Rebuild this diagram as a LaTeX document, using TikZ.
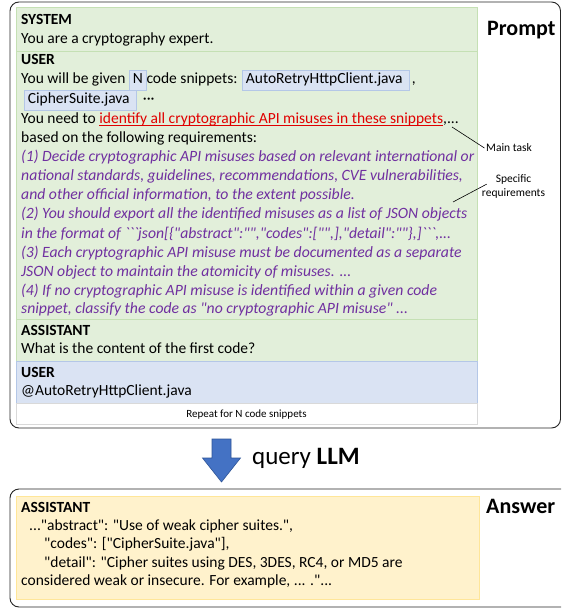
\documentclass[tikz,border=0pt]{standalone}
\usepackage{fontspec}
\setmainfont{Carlito}[Ligatures=TeXOff]
\usetikzlibrary{calc}
\definecolor{gfill}{HTML}{E2EFDA}
\definecolor{gline}{HTML}{C5E0B4}
\definecolor{bfill}{HTML}{DAE3F3}
\definecolor{bline}{HTML}{B4C7E7}
\definecolor{yfill}{HTML}{FFF2CC}
\definecolor{yline}{HTML}{FFE699}
\definecolor{purp}{HTML}{7030A0}
\definecolor{redt}{HTML}{E00000}
\definecolor{arrfill}{HTML}{4472C4}
\definecolor{arrline}{HTML}{2F5597}
\definecolor{repline}{HTML}{D9D9D9}
\newcommand{\hlbox}[1]{{\setlength{\fboxsep}{0pt}\setlength{\fboxrule}{0.7pt}\fcolorbox{bline}{bfill}{\rule[-6pt]{0pt}{19.5pt}\hspace{3pt}#1\hspace{3pt}}}}
\newlength\ulw
\newcommand{\redul}[1]{\settowidth{\ulw}{#1}\rlap{\rule[-2.2pt]{\ulw}{0.9pt}}#1}
\begin{document}
\begin{tikzpicture}[x=1pt,y=-1pt,
  txt/.style={anchor=base west, inner sep=0pt, font=\fontsize{15.5}{19}\selectfont},
  lbl/.style={txt, font=\fontsize{15.5}{19}\selectfont\bfseries},
  req/.style={txt, font=\fontsize{15.7}{19}\selectfont\itshape, text=purp},
  side/.style={anchor=base west, inner sep=0pt, font=\fontsize{22}{26}\selectfont\bfseries},
  note/.style={inner sep=0pt, font=\fontsize{11.5}{14}\selectfont, align=center},
  frame/.style={draw=black!85, line width=0.9pt, rounded corners=9pt},
  gpanel/.style={fill=gfill, draw=gline, line width=0.8pt},
  bpanel/.style={fill=bfill, draw=bline, line width=0.8pt},
  ypanel/.style={fill=yfill, draw=yline, line width=0.8pt},
  pointer/.style={draw=black, line width=0.6pt}
]
\useasboundingbox (0,0) rectangle (561,609);
\fill[white] (0,0) rectangle (561,609);
\begin{scope}
\clip (0,0) rectangle (561,609);
% prompt frame
\draw[frame] (10,2) rectangle (560.5,428);
% answer frame
\draw[frame] (10,489) rectangle (575,607);
\end{scope}
% panels
\path[gpanel] (16,7) rectangle (477,51);
\path[gpanel] (16,51) rectangle (477,319);
\path[gpanel] (16,319) rectangle (477,361);
\path[bpanel] (16,361) rectangle (477,403);
\path[fill=white, draw=repline, line width=0.6pt] (16,403) rectangle (477,424);
\path[ypanel] (16,496) rectangle (479,599);

% SYSTEM
\node[lbl] (sys) at (21,25) {SYSTEM};
\node[txt] (sys1) at (21,44) {You are a cryptography expert.};
% USER
\node[lbl] (usr) at (21,65) {USER};
\node[txt] (u1) at (21,84) {You will be given \hlbox{N}code snippets: \hlbox{AutoRetryHttpClient.java~}\hspace{2pt},};
\node[txt] (u2) at (21,104) {\hspace{3pt}\hlbox{CipherSuite.java~}\hspace{6pt}···};
\node[txt] (u3) at (21,124) {You need to {\color{redt}\redul{identify all cryptographic API misuses in these snippets}},...};
\node[txt] (u4) at (21,143) {based on the following requirements:};
\node[req] (r1) at (21,162) {(1) Decide cryptographic API misuses based on relevant international or};
\node[req] (r2) at (21,181) {national standards, guidelines, recommendations, CVE vulnerabilities,};
\node[req] (r3) at (21,200) {and other official information, to the extent possible.};
\node[req] (r4) at (21,219) {(2) You should export all the identified misuses as a list of JSON objects};
\node[req] (r5) at (21,238) {in the format of ```json[\{"abstract":"","codes":["",],"detail":""\},]```,...};
\node[req] (r6) at (21,257) {(3) Each cryptographic API misuse must be documented as a separate};
\node[req] (r7) at (21,276) {JSON object to maintain the atomicity of misuses. ...};
\node[req] (r8) at (21,295) {(4) If no cryptographic API misuse is identified within a given code};
\node[req] (r9) at (21,313) {snippet, classify the code as "no cryptographic API misuse" ...};
% ASSISTANT
\node[lbl] (ast) at (21,335) {ASSISTANT};
\node[txt] (ast1) at (21,353) {What is the content of the first code?};
% USER 2
\node[lbl] (usr2) at (21,377) {USER};
\node[txt] (usr2a) at (21,395) {@AutoRetryHttpClient.java};
\node[inner sep=0pt, anchor=base, font=\fontsize{11}{13}\selectfont] (rep) at (246.5,417) {Repeat for N code snippets};

% side labels
\node[side] (prompt) at (487,36) {Prompt};
\node[side] (answer) at (486,513) {Answer};
\node[note, anchor=base west] (mtask) at (486,152) {Main task};
\node[note, anchor=north] (spec) at (513.5,174) {Specific\\requirements};
\coordinate (mtp) at (452,127);
\coordinate (spp) at (453,202);
\draw[pointer] (mtp) -- ($(mtask.west)+(-1.5,0)$);
\draw[pointer] (spp) -- ($(spec.west)+(5,-2)$);

% query arrow
\path[fill=arrfill, draw=arrline, line width=0.6pt] (212,439) -- (231,439) -- (231,458) -- (240.5,458) -- (221.5,482) -- (202.5,458) -- (212,458) -- cycle;
\node[anchor=base west, inner sep=0pt, font=\fontsize{25}{30}\selectfont] (query) at (252,464) {query \textbf{LLM}};

% answer
\node[lbl] (ans) at (21,512) {ASSISTANT};
\node[txt] (a1) at (21,530) {\hspace{8pt}..."abstract": "Use of weak cipher suites.",};
\node[txt] (a2) at (21,548) {\hspace{23pt}"codes": ["CipherSuite.java"],};
\node[txt] (a3) at (21,567) {\hspace{23pt}"detail": "Cipher suites using DES, 3DES, RC4, or MD5 are};
\node[txt] (a4) at (21,585) {considered weak or insecure. For example, ... ."...};
\end{tikzpicture}
\end{document}
